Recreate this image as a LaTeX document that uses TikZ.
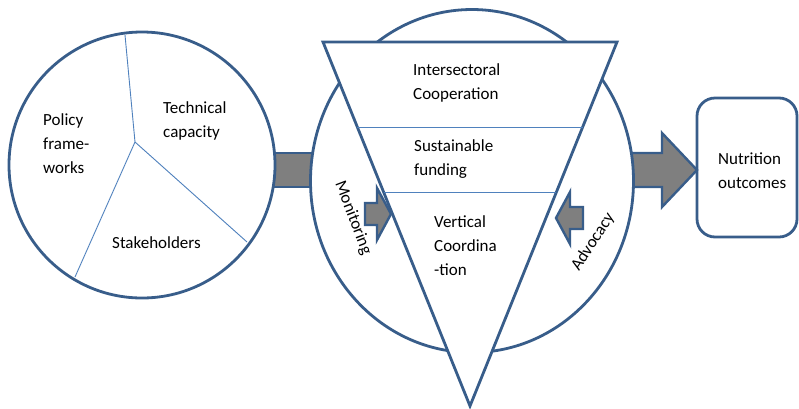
\documentclass[tikz,border=0pt]{standalone}
\usepackage{fontspec}
\setmainfont{Carlito}
\usetikzlibrary{calc,shapes.geometric}
\definecolor{edgeblue}{RGB}{56,93,138}
\definecolor{thinblue}{RGB}{79,129,189}
\definecolor{blockgray}{RGB}{127,127,127}
\newcommand{\stacklines}[1]{\begin{tabular}[t]{@{}l@{}}#1\end{tabular}}
\begin{document}
\begin{tikzpicture}[x=1pt,y=-1pt,
  outline/.style={draw=edgeblue,line width=2.8pt},
  divider/.style={draw=thinblue,line width=0.9pt},
  blockarrow/.style={outline,fill=blockgray,line width=2.4pt,line join=miter},
  label/.style={inner sep=0pt,anchor=base west,font=\fontsize{17}{24}\selectfont},
  slanted/.style={inner sep=0pt,anchor=center,font=\fontsize{17}{24}\selectfont}]
\useasboundingbox (0,0) rectangle (799,408);

% connector block between the two circles
\coordinate (linkA) at (270,153);
\coordinate (linkB) at (320,187);
\draw[blockarrow] (linkA) rectangle (linkB);

% big arrow towards the outcomes box
\coordinate (atip) at (697,170);
\draw[blockarrow] (620,153) -- (662,153) -- (662,133) -- (atip) -- (662,207) -- (662,187) -- (620,187) -- cycle;

% left pie circle
\node[outline,circle,fill=white,minimum size=266pt,inner sep=0pt] (pie) at (142,165) {};
\coordinate (hub) at (135,142);
\draw[divider] (hub) -- (125,35);
\draw[divider] (hub) -- (75,277);
\draw[divider] (hub) -- (247,242);
\node[label] (policy) at (43,125) {\stacklines{Policy\\frame-\\works}};
\node[label] (tech) at (163,113) {\stacklines{Technical\\capacity}};
\node[label] (stake) at (112,248) {Stakeholders};

% middle circle with inverted triangle
\node[outline,ellipse,fill=white,minimum width=323pt,minimum height=343pt,inner sep=0pt] (mid) at (472,181) {};
\coordinate (tl) at (323,42);
\coordinate (tr) at (617,42);
\coordinate (apex) at (470,406);
\draw[outline,fill=white,line join=miter] (tl) -- (tr) -- (apex) -- cycle;
\draw[divider] ($(tl)!0.2335!(apex)$) -- ($(tr)!0.2335!(apex)$);
\draw[divider] ($(tl)!0.412!(apex)$) -- ($(tr)!0.412!(apex)$);
\node[label] (inter) at (413,75) {\stacklines{Intersectoral\\Cooperation}};
\node[label] (fund) at (414,151) {\stacklines{Sustainable\\funding}};
\node[label] (vert) at (434,227) {\stacklines{Vertical\\Coordina\\-tion}};

% monitoring and advocacy arrows
\coordinate (mtip) at (391,214);
\draw[blockarrow] (365,203) -- (377,203) -- (377,188) -- (mtip) -- (377,240) -- (377,225) -- (365,225) -- cycle;
\coordinate (vtip) at (556,218);
\draw[blockarrow] (583,207) -- (570,207) -- (570,192) -- (vtip) -- (570,244) -- (570,229) -- (583,229) -- cycle;
\node[slanted,rotate=-69] (monit) at (353,218) {Monitoring};
\node[slanted,rotate=57] (advoc) at (593,242) {Advocacy};

% outcomes box
\node[outline,rounded corners=18pt,minimum width=100pt,minimum height=139pt,inner sep=0pt] (out) at (747,167.5) {};
\node[label] (outtext) at (718,164) {\stacklines{Nutrition\\outcomes}};
\end{tikzpicture}
\end{document}
